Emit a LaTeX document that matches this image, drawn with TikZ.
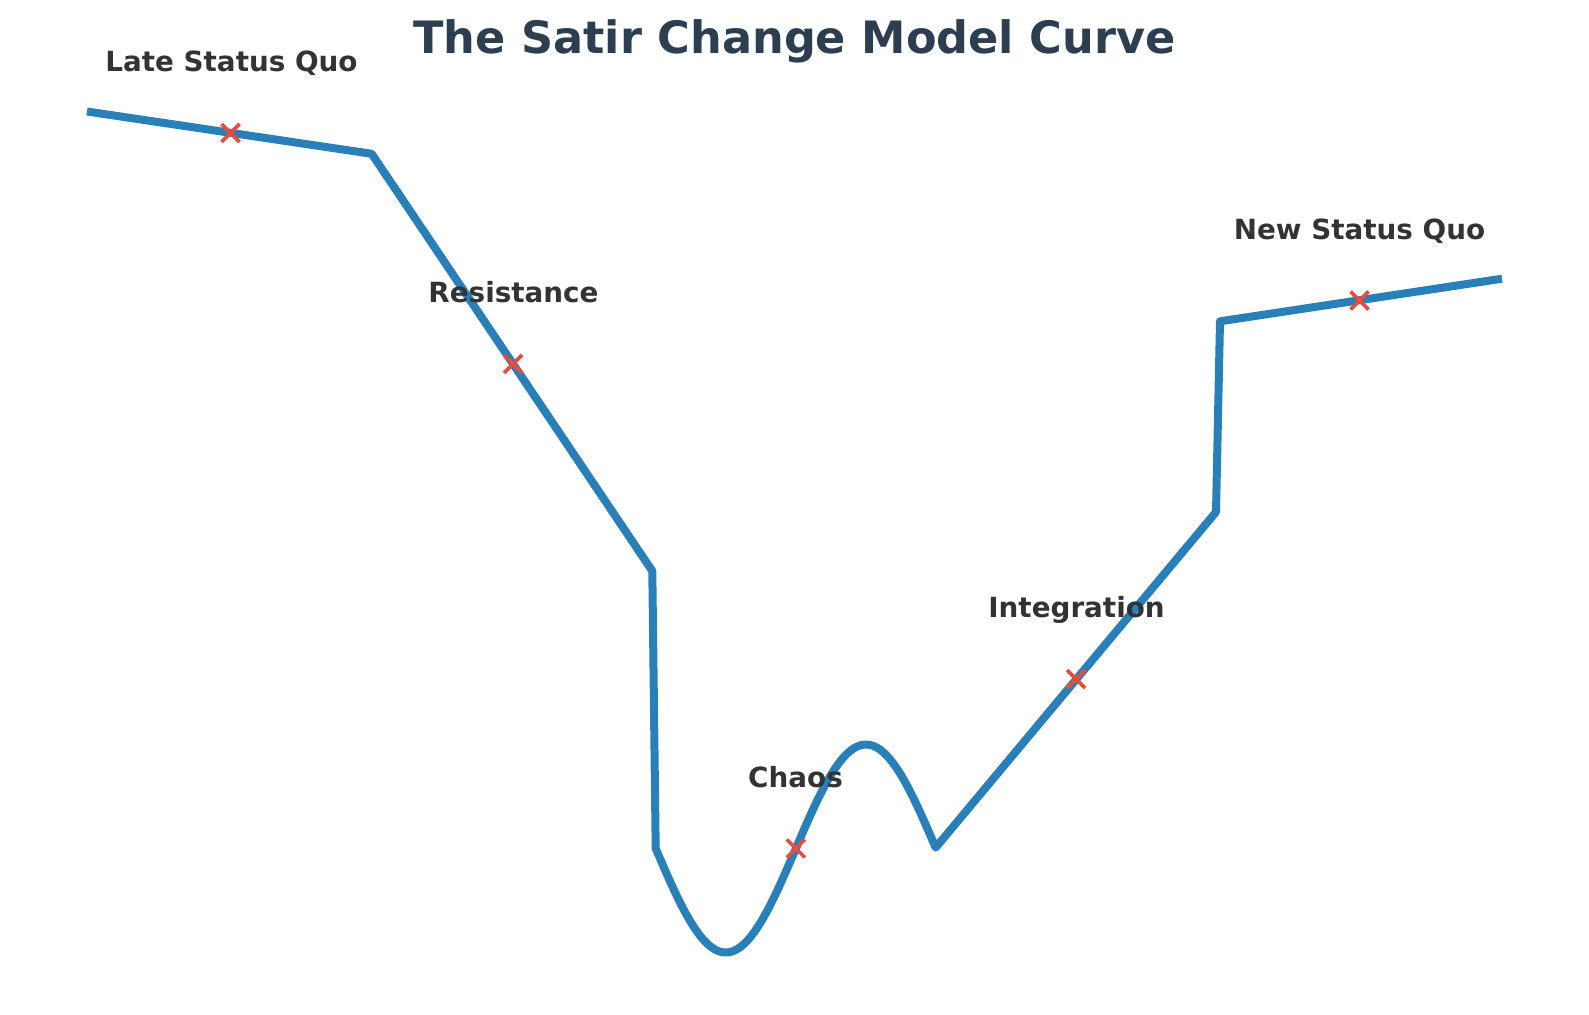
\documentclass[tikz,border=0pt]{standalone}
\usepackage{fontspec}
\setmainfont{DejaVu Sans}
\definecolor{curveblue}{HTML}{2980B9}
\definecolor{markred}{HTML}{E74C3C}
\definecolor{titlecol}{HTML}{2C3E50}
\definecolor{labelcol}{HTML}{333333}
\begin{document}
\begin{tikzpicture}[x=1pt,y=-1pt,
  curve/.style={draw=curveblue, line width=8pt, line join=round, line cap=butt},
  lbl/.style={font=\fontsize{27.8}{30}\selectfont\bfseries, text=labelcol, inner sep=0pt, anchor=base},
  ttl/.style={font=\fontsize{44.6}{48}\selectfont\bfseries, text=titlecol, inner sep=0pt, anchor=base},
  xmark/.pic={\draw[markred, line width=3.6pt] (-9,-9) -- (9,9) (-9,9) -- (9,-9);}]
\useasboundingbox (0,0) rectangle (1589,1014);
% curve corners
\coordinate (p0) at (87,111.5);
\coordinate (p1) at (371.7,153.8);
\coordinate (p2) at (652.3,571);
\coordinate (p3) at (655.7,849);
\coordinate (p4) at (1216,512);
\coordinate (p5) at (1220,321.3);
\coordinate (p6) at (1502,278.7);
\draw[curve] (p0) -- (p1) -- (p2) -- (p3)
  -- plot[domain=0:1, samples=120, smooth] ({655.7+280.3*\x}, {848.5+104*sin(360*\x)})
  -- (p4) -- (p5) -- (p6);
% markers
\pic at (230.5,133) {xmark};
\pic at (513,364) {xmark};
\pic at (795.9,848.5) {xmark};
\pic at (1076,679) {xmark};
\pic at (1359.5,300.5) {xmark};
% labels
\node[ttl] (title) at (794.5,54) {The Satir Change Model Curve};
\node[lbl] (lsq) at (231.5,71.5) {Late Status Quo};
\node[lbl] (res) at (513.5,302.5) {Resistance};
\node[lbl] (cha) at (795.5,787) {Chaos};
\node[lbl] (int) at (1076.5,617.5) {Integration};
\node[lbl] (nsq) at (1359.5,239) {New Status Quo};
\end{tikzpicture}
\end{document}
